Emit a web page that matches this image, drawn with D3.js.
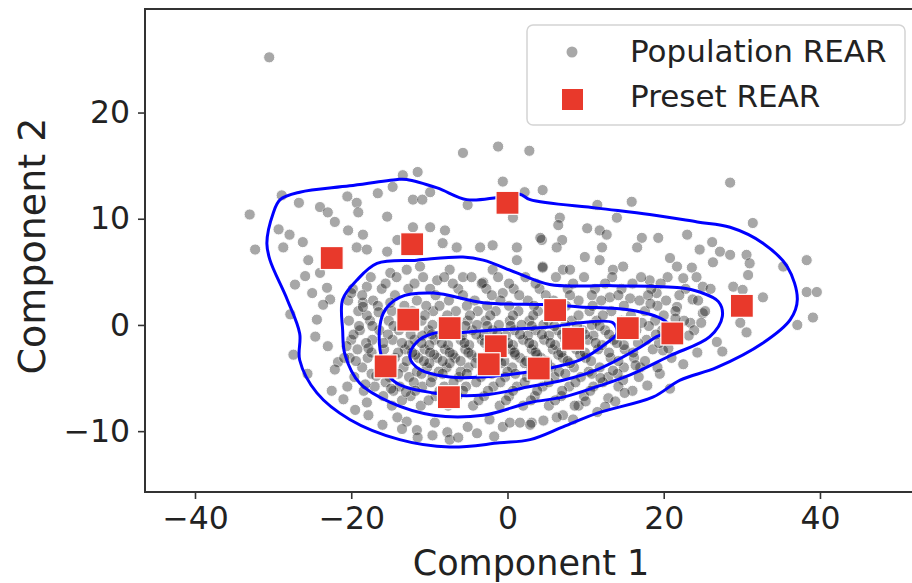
<!DOCTYPE html>
<html><head><meta charset="utf-8">
<script src="https://cdn.jsdelivr.net/npm/d3@7"></script>
<style>html,body{margin:0;padding:0;background:#fff}svg{display:block}</style>
</head><body><svg id="c" width="912" height="583"></svg>
<script>
const xTicks = [-40, -20, 0, 20, 40];
const yTicks = [-10, 0, 10, 20];
const xLabel = "Component 1";
const yLabel = "Component 2";
const legendLabels = ["Population REAR", "Preset REAR"];

const presetREAR = [[-22.5,6.3],[-12.2,7.6],[0.0,11.5],[-12.7,0.5],[-7.4,-0.3],[-1.5,-2.0],[-2.4,-3.7],
  [6.1,1.4],[8.4,-1.3],[4.0,-4.1],[-15.6,-3.9],[-7.5,-6.8],[15.4,-0.3],[21.1,-0.8],[30.0,1.8]];

const populationREAR = [
  [-30.5,25.2],[-5.7,16.2],[-1.2,16.8],[2.8,16.4],[28.5,13.4],
  [-11.5,14.4],[-13.4,14.1],[-28.9,12.2],[-26.7,11.5],[-24.0,11.1],[-23.0,10.6],[-22.1,9.7],[-20.5,12.1],
  [-19.3,11.5],[-19.1,10.6],[-16.6,12.4],[-15.4,10.2],[-14.7,13.0],[-12.1,11.8],[-10.9,11.8],[-9.9,12.5],
  [-5.1,11.3],[-0.6,13.5],[0.7,10.1],[2.2,12.5],[4.5,12.7],[-20.4,8.9],[-18.5,8.5],[-26.2,7.8],[-28.7,7.3],
  [-32.3,7.1],[-33.0,10.4],[-25.5,6.1],[-24.0,4.9],[-19.3,7.3],[-18.0,7.1],[-15.4,6.9],[-14.1,8.0],
  [-12.1,9.2],[-9.9,9.2],[-8.0,8.9],[-8.3,7.7],[-6.5,7.3],[-3.5,7.3],[-1.9,7.5],[1.2,7.3],[1.2,6.1],
  [4.4,8.0],[4.5,5.5],[-27.2,3.8],[-25.0,3.0],[-23.1,3.5],[-22.7,2.4],[-18.0,3.6],[-15.0,4.9],[-12.9,5.2],
  [-11.2,5.5],[-9.0,4.2],[-7.4,5.2],[-5.7,4.5],[-3.1,4.0],[-0.6,3.0],[-1.9,5.2],
  [15.9,11.6],[11.5,11.3],[14.0,10.1],[6.7,10.1],[6.5,9.4],[31.4,9.6],[10.2,9.1],[11.8,8.9],[12.7,8.5],
  [4.2,8.2],[7.0,8.0],[17.2,8.2],[19.3,8.2],[23.0,8.5],[26.2,7.8],[12.1,7.3],[16.6,7.3],[6.3,7.3],
  [24.6,7.1],[27.2,6.9],[9.9,6.4],[11.8,6.1],[28.5,6.6],[30.6,6.6],[31.0,5.8],[20.8,6.3],[21.7,5.5],
  [23.6,5.4],[26.3,5.9],[38.3,6.1],[35.3,5.5],[4.5,5.4],[7.1,5.2],[8.0,5.2],[13.5,5.2],[14.8,5.5],
  [30.8,4.7],[18.2,4.2],[22.5,4.4],[25.0,3.6],[28.9,3.6],[30.1,3.3],[38.3,3.1],[39.6,3.1],[32.7,2.6],
  [13.1,2.6],[15.7,2.5],[19.1,3.0],[21.7,1.7],[23.7,2.4],
  [39.1,0.7],[37.1,0.0],[30.6,-0.7],[29.8,0.2],[26.8,-1.6],[27.5,-2.5],[23.4,0.2],[25.0,1.1],
  [17.9,-5.7],[12.9,-6.9],[12.5,-7.7],[11.5,-8.2],[7.1,-8.5],[6.3,-8.7],[3.1,-9.2],[19.9,-2.4],[17.0,-4.0],[14.8,-5.2],
  [-24.4,0.5],[-24.6,-1.1],[-27.4,-2.8],[-21.7,-3.5],[-22.1,-4.2],[-20.2,-3.1],[-20.5,-5.8],[-18.0,-7.3],
  [-17.8,-8.5],[-14.1,-8.7],[-12.9,-9.1],[-11.6,-9.9],[-11.5,-10.6],[-7.7,-10.1],[-7.4,-10.8],[-6.3,-10.6],
  [-3.9,-10.2],[-0.6,-9.6],[0.3,-9.2],[1.6,-9.2],[2.9,-9.4],[-23.6,1.9],[-18.5,2.1],
  [-27.8,1.0],[-25.9,4.6],[-29.3,9.0],[-27.9,8.5],[-23.0,-2.0],[-25.6,-4.6],
  [-22.5,-6.2],[-16.0,-9.4],[-9.3,-9.2],[-5.1,-9.6],[-2.3,-8.9],[9.1,-7.6],[13.8,-7.2],[16.0,-6.2],
  [19.5,-4.6],[22.5,-3.7],[24.3,-2.6],[20.8,-6.0],
  [-17.5,4.5],[-14.2,4.5],[-10.8,4.5],[-8.1,4.5],[-4.6,4.5],[-1.2,4.5],[2.3,4.5],[6.2,4.5],[9.8,4.5],[13.4,4.5],[17.1,4.5],[20.5,4.5],[24.2,4.5],
  [-19.8,3.4],[-16.1,3.4],[-12.7,3.4],[-9.9,3.4],[-6.3,3.4],[-2.7,3.4],[0.8,3.4],[4.1,3.4],[7.7,3.4],[11.2,3.4],[14.6,3.4],[18.4,3.4],[22.8,3.4],[26.0,3.4],
  [-20.4,2.3],[-17.2,2.3],[-11.6,2.3],[-7.5,2.3],[-4.2,2.3],[-0.9,2.3],[2.6,2.3],[5.9,2.3],[9.1,2.3],[12.0,2.3],[16.9,2.3],[20.3,2.3],[24.4,2.3],
  [-19.1,1.3],[-14.8,1.3],[-12.2,1.3],[-9.5,1.3],[-6.6,1.3],[-3.8,1.3],[-1.5,1.3],[1.4,1.3],[3.9,1.3],[6.8,1.3],[10.5,1.3],[13.3,1.3],[17.6,1.3],[21.5,1.3],[25.3,1.3],
  [-20.3,0.4],[-17.6,0.4],[-15.2,0.4],[-11.0,0.4],[-8.3,0.4],[-5.1,0.4],[-2.8,0.4],[0.3,0.4],[2.8,0.4],[5.2,0.4],[8.2,0.4],[11.4,0.4],[14.6,0.4],[18.9,0.4],[22.6,0.4],
  [-18.9,-0.5],[-16.4,-0.5],[-13.9,-0.5],[-10.1,-0.5],[-7.2,-0.5],[-4.5,-0.5],[-1.9,-0.5],[0.9,-0.5],[3.6,-0.5],[6.4,-0.5],[9.6,-0.5],[12.5,-0.5],[16.5,-0.5],[19.8,-0.5],[23.9,-0.5],
  [-20.0,-1.4],[-17.3,-1.4],[-14.7,-1.4],[-11.9,-1.4],[-9.3,-1.4],[-6.0,-1.4],[-3.3,-1.4],[-0.6,-1.4],[2.0,-1.4],[4.7,-1.4],[7.4,-1.4],[10.3,-1.4],[13.6,-1.4],[17.8,-1.4],[21.2,-1.4],
  [-19.2,-2.3],[-15.8,-2.3],[-13.1,-2.3],[-10.6,-2.3],[-8.0,-2.3],[-5.4,-2.3],[-2.4,-2.3],[0.4,-2.3],[3.1,-2.3],[5.8,-2.3],[8.8,-2.3],[11.6,-2.3],[15.0,-2.3],[18.6,-2.3],
  [-20.9,-3.1],[-17.9,-3.1],[-14.4,-3.1],[-11.4,-3.1],[-9.0,-3.1],[-6.7,-3.1],[-3.9,-3.1],[-1.2,-3.1],[1.6,-3.1],[4.3,-3.1],[7.1,-3.1],[10.0,-3.1],[13.2,-3.1],[16.2,-3.1],[21.0,-3.1],
  [-18.6,-4.0],[-16.2,-4.0],[-13.3,-4.0],[-10.3,-4.0],[-7.8,-4.0],[-5.0,-4.0],[-2.2,-4.0],[0.6,-4.0],[3.0,-4.0],[5.6,-4.0],[8.5,-4.0],[11.8,-4.0],[14.9,-4.0],[19.2,-4.0],
  [-19.6,-4.9],[-15.1,-4.9],[-12.6,-4.9],[-9.6,-4.9],[-6.2,-4.9],[-3.4,-4.9],[-0.3,-4.9],[2.5,-4.9],[6.0,-4.9],[9.4,-4.9],[12.9,-4.9],[16.8,-4.9],
  [-17.0,-5.8],[-13.8,-5.8],[-10.9,-5.8],[-8.1,-5.8],[-5.3,-5.8],[-1.8,-5.8],[1.2,-5.8],[4.5,-5.8],[7.9,-5.8],[11.0,-5.8],[14.2,-5.8],
  [-15.9,-6.7],[-12.4,-6.7],[-9.2,-6.7],[-6.4,-6.7],[-3.0,-6.7],[0.2,-6.7],[3.5,-6.7],[6.9,-6.7],[9.8,-6.7],
  [-14.8,-7.6],[-11.1,-7.6],[-7.6,-7.6],[-4.4,-7.6],[-1.0,-7.6],[2.0,-7.6],[5.3,-7.6],[8.6,-7.6],
  [-10.9,-1.0],[-8.6,-1.0],[-5.8,-1.0],[-3.0,-1.0],[-0.2,-1.0],[2.6,-1.0],[5.3,-1.0],[8.0,-1.0],[11.0,-1.0],
  [-11.8,-2.8],[-9.4,-2.8],[-7.0,-2.8],[-4.6,-2.8],[-1.7,-2.8],[1.0,-2.8],[3.8,-2.8],[6.5,-2.8],[9.3,-2.8],
  [-10.0,-3.6],[-7.4,-3.6],[-4.1,-3.6],[-0.8,-3.6],[2.2,-3.6],[5.1,-3.6],[8.0,-3.6],
  [-12.6,-1.9],[-10.0,-1.9],[-7.6,-1.9],[-4.9,-1.9],[-2.1,-1.9],[0.7,-1.9],[3.3,-1.9],[6.1,-1.9],[9.0,-1.9],[12.1,-1.9],[14.9,-1.9],
  [-9.6,0.0],[-6.9,0.0],[-3.9,0.0],[-1.1,0.0],[1.8,0.0],[4.6,0.0],[7.4,0.0],[10.8,0.0],
  [-11.6,-4.4],[-8.8,-4.4],[-6.0,-4.4],[-2.9,-4.4],[0.0,-4.4],[3.4,-4.4],[6.6,-4.4],[10.4,-4.4],
  [-15.6,3.9],[-11.9,3.9],[-7.0,3.9],[-3.3,3.9],[0.2,3.9],[3.6,3.9],[8.4,3.9],[12.5,3.9],[16.0,3.9],[19.6,3.9],
  [-18.6,2.8],[-14.4,2.8],[-9.2,2.8],[-5.7,2.8],[-2.0,2.8],[1.5,2.8],[4.9,2.8],[8.0,2.8],[10.8,2.8],[14.2,2.8],[18.0,2.8],[22.0,2.8],
  [-16.6,1.8],[-13.2,1.8],[-10.4,1.8],[-8.7,1.8],[-5.2,1.8],[-2.6,1.8],[0.2,1.8],[3.4,1.8],[7.5,1.8],[10.9,1.8],[14.9,1.8],[19.2,1.8],
  [-18.0,0.9],[-13.6,0.9],[-10.6,0.9],[-7.7,0.9],[-4.8,0.9],[-2.2,0.9],[0.7,0.9],[3.3,0.9],[5.8,0.9],[9.1,0.9],[12.2,0.9],[15.8,0.9],[20.0,0.9],
  [-17.3,-0.1],[-14.6,-0.1],[-12.0,-0.1],[-8.2,-0.1],[-5.4,-0.1],[-2.6,-0.1],[0.4,-0.1],[3.1,-0.1],[6.0,-0.1],[8.9,-0.1],[11.8,-0.1],[15.5,-0.1],[18.1,-0.1],
  [-19.7,-0.9],[-15.3,-0.9],[-12.4,-0.9],[-9.7,-0.9],[-6.5,-0.9],[-4.0,-0.9],[-1.3,-0.9],[1.6,-0.9],[4.4,-0.9],[7.0,-0.9],[9.9,-0.9],[13.0,-0.9],
  [-18.1,-1.7],[-15.9,-1.7],[-13.5,-1.7],[-11.0,-1.7],[-8.4,-1.7],[-5.5,-1.7],[-2.9,-1.7],[0.1,-1.7],[2.8,-1.7],[5.5,-1.7],[8.2,-1.7],[11.3,-1.7],[14.0,-1.7],[16.7,-1.7],[19.4,-1.7],
  [-17.4,-2.6],[-14.0,-2.6],[-12.2,-2.6],[-9.9,-2.6],[-7.4,-2.6],[-5.0,-2.6],[-2.0,-2.6],[0.9,-2.6],[3.6,-2.6],[6.9,-2.6],[9.9,-2.6],[13.0,-2.6],[16.1,-2.6],
  [-19.4,-3.4],[-16.0,-3.4],[-12.9,-3.4],[-10.7,-3.4],[-8.3,-3.4],[-6.0,-3.4],[-3.2,-3.4],[-0.4,-3.4],[2.4,-3.4],[5.0,-3.4],[7.7,-3.4],[10.7,-3.4],[14.2,-3.4],[17.6,-3.4],
  [-17.4,-4.6],[-14.0,-4.6],[-11.0,-4.6],[-8.3,-4.6],[-5.2,-4.6],[-2.0,-4.6],[1.0,-4.6],[4.1,-4.6],[7.4,-4.6],[10.8,-4.6],[14.1,-4.6],
  [-15.6,-5.4],[-12.0,-5.4],[-9.8,-5.4],[-6.9,-5.4],[-4.0,-5.4],[-0.9,-5.4],[2.2,-5.4],[5.3,-5.4],[8.7,-5.4],[12.2,-5.4],
  [-18.4,-6.2],[-14.6,-6.2],[-11.8,-6.2],[-8.7,-6.2],[-5.7,-6.2],[-2.5,-6.2],[0.7,-6.2],[3.8,-6.2],[7.0,-6.2],[10.6,-6.2],
  [-13.5,-7.1],[-10.1,-7.1],[-6.9,-7.1],[-3.7,-7.1],[-0.2,-7.1],[3.0,-7.1],[6.1,-7.1],
  [-20.6,-2.0],[-19.0,-0.1],[-17.8,-2.2],[-16.8,-4.8],[-18.2,-5.6],[-14.9,-6.0],[-13.0,-6.3],[-16.5,1.2],
  [-18.5,1.7],[-20.0,3.0],[-15.0,2.1],
  [17.2,0.2],[19.0,-0.9],[21.5,0.6],[23.2,-1.0],[24.8,0.2],[18.3,2.0],[20.6,-2.2],[16.4,-3.8],[13.5,-4.3],[11.9,-5.0],
  [-21.0,-7.0],[-19.5,-8.0],[-13.5,-9.8],[-9.6,-10.4],[-1.7,-10.5],[4.6,-9.0],[8.4,-8.9],[10.0,-7.2],[15.0,-6.4]
];

const contourLevel1 = [[-30.4,6.1],[-30.8,7.7],[-30.0,10.5],[-29.1,11.8],[-26.6,12.5],[-20.2,13.1],[-14.1,13.7],
  [-12.9,13.7],[-9.0,12.9],[-5.2,11.8],[-1.3,12.0],[1.6,12.3],[2.9,11.8],[11.5,11.0],[18.2,10.4],[24.3,9.7],
  [28.5,9.2],[32.7,7.7],[35.8,5.5],[37.1,2.4],[36.2,0.5],[32.7,-1.7],[26.8,-4.0],[22.1,-5.2],[18.6,-6.8],
  [11.5,-8.3],[7.1,-9.6],[2.9,-10.8],[-1.0,-11.1],[-7.4,-11.5],[-13.8,-10.8],[-20.2,-8.9],[-24.4,-6.4],
  [-26.6,-3.3],[-26.6,-0.8],[-28.2,2.4]];
const contourLevel2 = [[-21.1,2.4],[-21.1,-0.5],[-20.8,-2.8],[-18.9,-5.5],[-15.0,-7.3],[-9.5,-8.5],[-3.1,-8.5],
  [2.9,-7.3],[7.1,-6.8],[11.5,-5.8],[15.7,-4.7],[20.8,-2.9],[25.9,-1.1],[27.5,0.8],[27.0,2.2],[24.6,3.1],
  [22.1,3.5],[13.5,3.7],[5.4,3.8],[1.2,4.9],[-3.1,6.1],[-5.7,6.4],[-11.6,6.1],[-16.7,5.8],[-19.3,4.2]];
const contourLevel3 = [[-15.9,1.1],[-13.8,2.6],[-9.5,3.0],[-3.1,2.1],[5.4,1.9],[9.3,1.7],[15.7,1.4],[19.9,0.5],
  [21.1,-0.5],[19.1,-1.1],[17.0,-2.1],[11.5,-4.2],[7.1,-5.2],[2.9,-5.8],[-3.1,-6.6],[-9.5,-6.4],[-14.7,-5.2],[-16.3,-2.4]];
const contourLevel4 = [[-9.5,-0.8],[-11.6,-1.6],[-12.5,-3.0],[-11.2,-4.2],[-7.4,-4.9],[-3.1,-4.9],[2.0,-4.5],
  [5.8,-4.0],[9.3,-3.3],[12.7,-1.7],[14.0,-0.8],[13.5,0.2],[9.3,0.2],[5.4,-0.2],[-2.2,-0.5],[-5.7,-0.7]];
const contours = [contourLevel1, contourLevel2, contourLevel3, contourLevel4];

const svg = d3.select("#c");
const L = 145, R = 917, T = 9, B = 492;
const x = d3.scaleLinear().domain([-46.4, 52.42]).range([L, R]);
const y = d3.scaleLinear().domain([-15.73, 29.75]).range([B, T]);
const FONT = "'DejaVu Sans', sans-serif";

svg.append("clipPath").attr("id","clip").append("rect").attr("x",L).attr("y",T).attr("width",R-L).attr("height",B-T);
const plot = svg.append("g").attr("clip-path","url(#clip)");

plot.append("g").selectAll("circle").data(populationREAR).join("circle")
  .attr("cx", d => x(d[0])).attr("cy", d => y(d[1])).attr("r", 5.6)
  .attr("fill", "#000").attr("stroke", "#fff").attr("stroke-width", 1).attr("opacity", 0.34);

const line = d3.line().x(d => x(d[0])).y(d => y(d[1])).curve(d3.curveCatmullRomClosed.alpha(0.5));
plot.append("g").selectAll("path").data(contours).join("path")
  .attr("d", line).attr("fill","none").attr("stroke","#0000ff").attr("stroke-width",3);

const S = 23;
plot.append("g").selectAll("rect").data(presetREAR).join("rect")
  .attr("x", d => x(d[0]) - S/2).attr("y", d => y(d[1]) - S/2).attr("width", S).attr("height", S)
  .attr("fill", "#e8392b").attr("stroke","#fff").attr("stroke-width",1.2);

// axes
const fmt = d => d < 0 ? "\u2212" + Math.abs(d) : d;
const xAxis = d3.axisBottom(x).tickValues(xTicks).tickSize(7).tickPadding(8).tickFormat(fmt);
const yAxis = d3.axisLeft(y).tickValues(yTicks).tickSize(7).tickPadding(8).tickFormat(fmt);
const gx = svg.append("g").attr("transform", `translate(0,${B})`).call(xAxis);
const gy = svg.append("g").attr("transform", `translate(${L},0)`).call(yAxis);
[gx, gy].forEach(g => {
  g.select(".domain").remove();
  g.selectAll(".tick line").attr("stroke","#333").attr("stroke-width",1.6);
  g.selectAll(".tick text").attr("font-family", FONT).attr("font-size", 31.5).attr("fill","#222");
});
// spines
svg.append("path").attr("d", `M${R},${T}H${L}V${B}H${R}`).attr("fill","none").attr("stroke","#333").attr("stroke-width",2);

svg.append("text").attr("x", 531).attr("y", 575).attr("text-anchor","middle")
  .attr("font-family", FONT).attr("font-size", 35).attr("fill","#222").text(xLabel);
svg.append("text").attr("transform","translate(45,246) rotate(-90)").attr("text-anchor","middle")
  .attr("font-family", FONT).attr("font-size", 38).attr("fill","#222").text(yLabel);

// legend
const lg = svg.append("g");
lg.append("rect").attr("x",527).attr("y",25).attr("width",378).attr("height",100).attr("rx",6)
  .attr("fill","#fff").attr("fill-opacity",0.85).attr("stroke","#d4d4d4").attr("stroke-width",1.5);
lg.append("circle").attr("cx",572).attr("cy",52).attr("r",5.5).attr("fill","#000").attr("opacity",0.34);
lg.append("rect").attr("x",562).attr("y",89).attr("width",21).attr("height",21).attr("fill","#e8392b");
lg.selectAll("text.lbl").data(legendLabels).join("text").attr("class","lbl")
  .attr("x",630).attr("y",(d,i)=>62+i*45).attr("font-family",FONT).attr("font-size",31).attr("fill","#222").text(d=>d);
</script></body></html>
